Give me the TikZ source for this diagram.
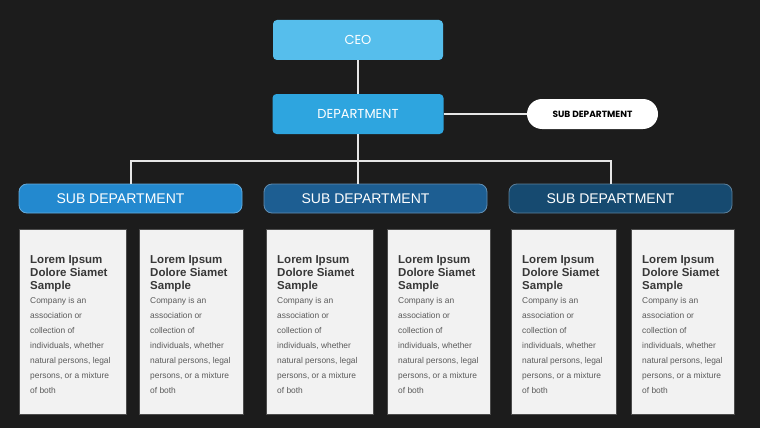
\documentclass[tikz,border=0pt]{standalone}
\usepackage{fontspec}
\setmainfont{Liberation Sans}
\newfontfamily\pop{Poppins}
\definecolor{bg}{HTML}{1C1C1C}
\definecolor{ceoc}{HTML}{56BEEC}
\definecolor{depc}{HTML}{2EA5DF}
\definecolor{barA}{HTML}{2389CF}
\definecolor{barB}{HTML}{1D5E92}
\definecolor{barC}{HTML}{164A70}
\definecolor{cardc}{HTML}{F2F2F2}
\definecolor{headc}{HTML}{383838}
\definecolor{bodyc}{HTML}{5A5A5A}
\definecolor{linec}{HTML}{E6E6E6}
\tikzset{
  topbox/.style={rectangle, rounded corners=4pt, inner sep=0pt, text=white,
    minimum height=40pt, font=\pop\fontsize{13}{13}\selectfont},
  pillbox/.style={rectangle, rounded corners=15pt, inner sep=0pt, fill=white, text=black,
    minimum width=131pt, minimum height=30pt, font=\pop\bfseries\fontsize{9}{9}\selectfont},
  barbox/.style={rectangle, rounded corners=8pt, inner sep=0pt, text=white,
    minimum width=223pt, minimum height=29pt, line width=0.8pt,
    font=\fontsize{14}{14}\selectfont},
  conn/.style={draw=linec, line width=1.5pt},
  cardbox/.style={fill=cardc, draw=black!70, line width=0.4pt},
  headtxt/.style={inner sep=0pt, align=left, text=headc, anchor=base west,
    font=\bfseries\fontsize{11.5}{13.3}\selectfont},
  bodytxt/.style={inner sep=0pt, align=left, text=bodyc, anchor=base west,
    font=\fontsize{8.4}{15}\selectfont}
}
\begin{document}
\begin{tikzpicture}[x=1pt,y=-1pt]
\fill[bg] (0,0) rectangle (760,428);
\useasboundingbox (0,0) rectangle (760,428);

\node[topbox, fill=ceoc, minimum width=170pt] (ceo) at (358,40) {CEO};
\node[topbox, fill=depc, minimum width=171pt] (dep) at (358,114) {DEPARTMENT};
\node[pillbox] (pill) at (592.5,114) {SUB DEPARTMENT};

\node[barbox, fill=barA, draw=barA!70!white] (bar1) at (130.5,198.5) {SUB DEPARTMENT\kern20pt};
\node[barbox, fill=barB, draw=barB!70!white] (bar2) at (375.5,198.5) {SUB DEPARTMENT\kern20pt};
\node[barbox, fill=barC, draw=barC!70!white] (bar3) at (620.5,198.5) {SUB DEPARTMENT\kern20pt};

\coordinate (jl) at (131,161);
\coordinate (jr) at (611,161);
\draw[conn] (ceo.south) -- (ceo.south |- dep.north);
\draw[conn] (dep.east) -- (pill.west);
\draw[conn] (dep.south) -- (dep.south |- bar2.north);
\draw[conn] (jl |- bar1.north) -- (jl) -- (jr) -- (jr |- bar3.north);

\foreach \i/\xl/\xr in {1/19/126,2/139/243,3/266/373,4/387/490,5/511/616,6/631/734}{
  \path[cardbox] (\xl,229) rectangle (\xr,414);
  \node[headtxt] (head\i) at (\xl+11,289.6) {Lorem Ipsum\\Dolore Siamet\\Sample};
  \node[bodytxt] (body\i) at (\xl+11,393) {Company is an\\association or\\collection of\\individuals, whether\\natural persons, legal\\persons, or a mixture\\of both};
}
\end{tikzpicture}
\end{document}
